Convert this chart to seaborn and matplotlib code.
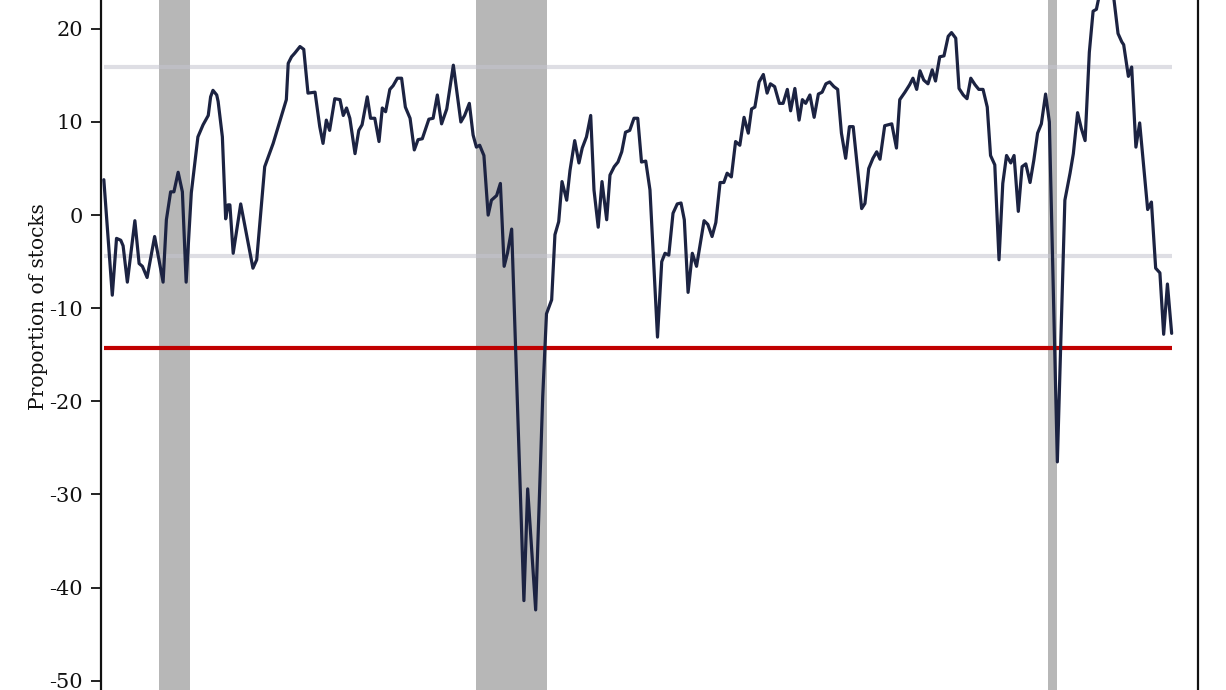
import numpy as np
import pandas as pd
import seaborn as sns
import matplotlib.pyplot as plt

# Series (decimal year, proportion of stocks)
years = [
    2000.00, 2000.18, 2000.27, 2000.36, 2000.41, 2000.50, 2000.66, 2000.75, 2000.82, 2000.92,
    2001.08, 2001.26, 2001.33, 2001.42, 2001.49, 2001.58, 2001.67, 2001.75, 2001.86, 2002.00,
    2002.11, 2002.22, 2002.27, 2002.32, 2002.40, 2002.43, 2002.52, 2002.59, 2002.64, 2002.68,
    2002.75, 2002.91, 2003.17, 2003.25, 2003.42, 2003.60, 2003.88, 2003.92, 2003.99, 2004.06,
    2004.17, 2004.25, 2004.34, 2004.49, 2004.59, 2004.66, 2004.73, 2004.80, 2004.91, 2005.02,
    2005.09, 2005.16, 2005.23, 2005.34, 2005.42, 2005.49, 2005.60, 2005.67, 2005.76, 2005.85,
    2005.92, 2005.99, 2006.08, 2006.15, 2006.24, 2006.33, 2006.41, 2006.51, 2006.60, 2006.68,
    2006.77, 2006.91, 2007.00, 2007.09, 2007.18, 2007.29, 2007.43, 2007.59, 2007.67, 2007.77,
    2007.85, 2007.92, 2007.99, 2008.08, 2008.17, 2008.24, 2008.35, 2008.43, 2008.51, 2008.58,
    2008.67, 2008.93, 2009.01, 2009.18, 2009.33, 2009.41, 2009.52, 2009.59, 2009.67, 2009.74,
    2009.84, 2009.91, 2010.01, 2010.10, 2010.17, 2010.26, 2010.35, 2010.42, 2010.51, 2010.59,
    2010.69, 2010.76, 2010.85, 2010.93, 2011.01, 2011.09, 2011.18, 2011.27, 2011.35, 2011.43,
    2011.52, 2011.61, 2011.77, 2011.86, 2011.93, 2012.01, 2012.10, 2012.19, 2012.27, 2012.34,
    2012.42, 2012.51, 2012.60, 2012.76, 2012.84, 2012.93, 2013.01, 2013.10, 2013.18, 2013.25,
    2013.34, 2013.43, 2013.52, 2013.61, 2013.70, 2013.77, 2013.84, 2013.93, 2014.02, 2014.10,
    2014.17, 2014.26, 2014.36, 2014.44, 2014.53, 2014.60, 2014.69, 2014.78, 2014.85, 2014.92,
    2015.01, 2015.10, 2015.19, 2015.27, 2015.35, 2015.43, 2015.52, 2015.60, 2015.68, 2015.77,
    2015.85, 2015.93, 2016.11, 2016.18, 2016.26, 2016.35, 2016.43, 2016.50, 2016.60, 2016.75,
    2016.85, 2016.92, 2017.03, 2017.13, 2017.20, 2017.28, 2017.35, 2017.43, 2017.52, 2017.61,
    2017.68, 2017.77, 2017.86, 2017.95, 2018.02, 2018.11, 2018.18, 2018.27, 2018.35, 2018.43,
    2018.52, 2018.60, 2018.69, 2018.78, 2018.85, 2018.94, 2019.03, 2019.11, 2019.19, 2019.28,
    2019.35, 2019.44, 2019.52, 2019.60, 2019.69, 2019.77, 2019.85, 2019.93, 2020.02, 2020.10,
    2020.27, 2020.43, 2020.54, 2020.61, 2020.70, 2020.78, 2020.86, 2020.95, 2021.03, 2021.10,
    2021.24, 2021.34, 2021.43, 2021.56, 2021.64, 2021.68, 2021.78, 2021.85, 2021.94, 2022.02,
    2022.19, 2022.27, 2022.36, 2022.45, 2022.53, 2022.61, 2022.70,
]
values = [
    3.8, -8.6, -2.5, -2.7, -3.3, -7.2, -0.6, -5.2, -5.5, -6.7,
    -2.3, -7.2, -0.5, 2.5, 2.5, 4.6, 2.5, -7.2, 2.4, 8.4,
    9.7, 10.7, 12.7, 13.4, 12.9, 12.2, 8.4, -0.4, 1.1, 1.1,
    -4.1, 1.2, -5.7, -4.8, 5.2, 7.7, 12.4, 16.3, 17.0, 17.4,
    18.1, 17.8, 13.1, 13.2, 9.5, 7.7, 10.2, 9.1, 12.5, 12.4,
    10.7, 11.5, 10.4, 6.6, 9.1, 9.7, 12.7, 10.4, 10.4, 7.9,
    11.5, 11.1, 13.5, 13.9, 14.7, 14.7, 11.6, 10.4, 7.0, 8.1,
    8.2, 10.3, 10.4, 12.9, 9.8, 11.4, 16.1, 10.0, 10.7, 12.0,
    8.6, 7.3, 7.5, 6.4, 0.0, 1.6, 2.1, 3.4, -5.5, -4.1,
    -1.5, -41.4, -29.4, -42.4, -19.5, -10.6, -9.1, -2.1, -0.7, 3.6,
    1.6, 4.8, 8.0, 5.6, 7.2, 8.4, 10.7, 2.7, -1.3, 3.6,
    -0.5, 4.3, 5.2, 5.7, 6.8, 8.9, 9.1, 10.4, 10.4, 5.7,
    5.8, 2.7, -13.1, -5.0, -4.1, -4.3, 0.2, 1.2, 1.3, -0.5,
    -8.3, -4.1, -5.5, -0.6, -1.0, -2.3, -0.8, 3.5, 3.5, 4.5,
    4.1, 7.9, 7.5, 10.5, 8.8, 11.4, 11.6, 14.3, 15.1, 13.1,
    14.1, 13.8, 12.0, 12.0, 13.5, 11.2, 13.6, 10.2, 12.4, 12.0,
    12.9, 10.5, 13.0, 13.2, 14.1, 14.3, 13.8, 13.5, 8.8, 6.1,
    9.5, 9.5, 0.7, 1.25, 5.0, 6.1, 6.8, 6.0, 9.6, 9.8,
    7.2, 12.4, 13.2, 14.0, 14.7, 13.5, 15.5, 14.5, 14.1, 15.6,
    14.4, 17.0, 17.1, 19.2, 19.6, 19.0, 13.6, 12.9, 12.5, 14.7,
    14.0, 13.5, 13.5, 11.6, 6.4, 5.4, -4.8, 3.4, 6.4, 5.6,
    6.4, 0.4, 5.2, 5.5, 3.5, 5.9, 8.8, 9.8, 13.0, 10.0,
    -26.5, 1.6, 4.5, 6.6, 11.0, 9.3, 8.0, 17.5, 21.9, 22.1,
    25.5, 26.2, 25.0, 19.5, 18.6, 18.3, 14.9, 15.9, 7.3, 9.9,
    0.6, 1.4, -5.7, -6.2, -12.8, -7.4, -12.7,
]

# recession periods (start, end)
rec_start = [2001.17, 2007.92, 2020.08]
rec_end = [2001.83, 2009.42, 2020.27]

# reference levels
band_levels = [15.9, -4.4]
red_level = -14.3

yticks = [20, 10, 0, -10, -20, -30, -40, -50]

df = pd.DataFrame({'year': years, 'value': values})

sns.set_style('ticks')
plt.rcParams['font.family'] = ['DejaVu Serif']
plt.rcParams['axes.unicode_minus'] = False

fig = plt.figure(figsize=(12.26, 6.9), dpi=100)
ax = fig.add_axes([101 / 1226, 0, 1097 / 1226, 1])

for s, e in zip(rec_start, rec_end):
    ax.axvspan(s, e, color='#b7b7b7', zorder=1, lw=0)

ax.hlines(band_levels, df['year'].iloc[0], df['year'].iloc[-1],
          colors='#c4c4cf', alpha=0.55, lw=3, zorder=2)
ax.hlines(red_level, df['year'].iloc[0], df['year'].iloc[-1],
          colors='#c00000', lw=3, zorder=3)

sns.lineplot(data=df, x='year', y='value', estimator=None, sort=False,
             color='#1c2342', linewidth=2.3, ax=ax, zorder=4)

ax.set_xlim(1999.94, 2023.26)
ax.set_ylim(-51.0, 23.1)
ax.set_yticks(yticks)
ax.set_yticklabels([str(t) for t in yticks])
ax.set_xticks([])
ax.set_xlabel('')
ax.set_ylabel('Proportion of stocks', fontsize=14.5, color='#111111')
ax.yaxis.set_label_coords(-0.048, 0.555)

ax.tick_params(axis='y', length=7, width=1.3, labelsize=15, pad=6, colors='#111111')
ax.spines['top'].set_visible(False)
ax.spines['bottom'].set_visible(False)
for side in ['left', 'right']:
    ax.spines[side].set_color('#111111')
    ax.spines[side].set_linewidth(1.6)

fig.savefig('out.png', dpi=100)
